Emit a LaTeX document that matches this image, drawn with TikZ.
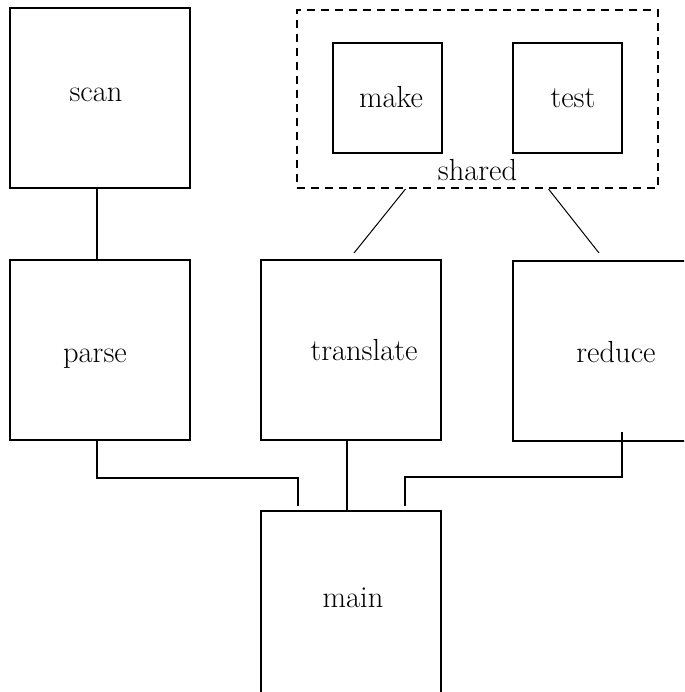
\documentclass[tikz,border=0pt]{standalone}
\usetikzlibrary{calc}
\begin{document}
\begin{tikzpicture}[x=1pt,y=-1pt,
  box/.style={draw,line width=2pt,rectangle,inner sep=0pt,minimum width=180pt,minimum height=180pt},
  smallbox/.style={draw,line width=2pt,rectangle,inner sep=0pt,minimum width=109pt,minimum height=110pt},
  group/.style={draw,line width=2pt,dash pattern=on 8pt off 6pt,rectangle,inner sep=0pt,minimum width=361pt,minimum height=178pt},
  lbl/.style={font=\fontsize{30.5}{36}\selectfont,inner sep=0pt,anchor=base},
  wire/.style={line width=2pt},
  thinwire/.style={line width=1pt}]
\clip (0,0) rectangle (684,692);
% boxes
\node[box] (scan) at (100,98) {};
\node[box] (parse) at (100,350) {};
\node[box] (translate) at (351,350) {};
\node[box] (reduce) at (603,350.5) {};
\node[box,minimum height=186pt] (main) at (351,604) {};
\node[group] (shared) at (477.5,99) {};
\node[smallbox] (make) at (387.5,98) {};
\node[smallbox] (test) at (567.5,98) {};
% labels
\node[lbl] (scantext) at (96,102) {scan};
\node[lbl] (parsetext) at (95,362) {parse};
\node[lbl] (translatetext) at (364,360) {translate};
\node[lbl] (reducetext) at (616,362) {reduce};
\node[lbl] (maintext) at (353,607) {main};
\node[lbl] (maketext) at (391,108) {make};
\node[lbl] (testtext) at (573,108) {test};
\node[lbl] (sharedtext) at (477.5,181) {shared};
% free ends
\coordinate (pm) at (298,506);
\coordinate (rm) at (405,506);
\coordinate (st) at (354,253);
\coordinate (sr) at (599,253);
% connectors
\draw[wire] ($(scan.south)+(-3,0)$) -- ($(parse.north)+(-3,2)$);
\draw[wire] ($(parse.south)+(-3,0)$) -- ++(0,37) -| (pm);
\draw[wire] ($(translate.south)+(-4,0)$) -- ($(main.north)+(-4,2)$);
\draw[wire] (622,432) -- (622,477) -| (rm);
\draw[thinwire] ($(shared.south)+(-72,0)$) -- (st);
\draw[thinwire] ($(shared.south)+(71,0)$) -- (sr);
\end{tikzpicture}
\end{document}
